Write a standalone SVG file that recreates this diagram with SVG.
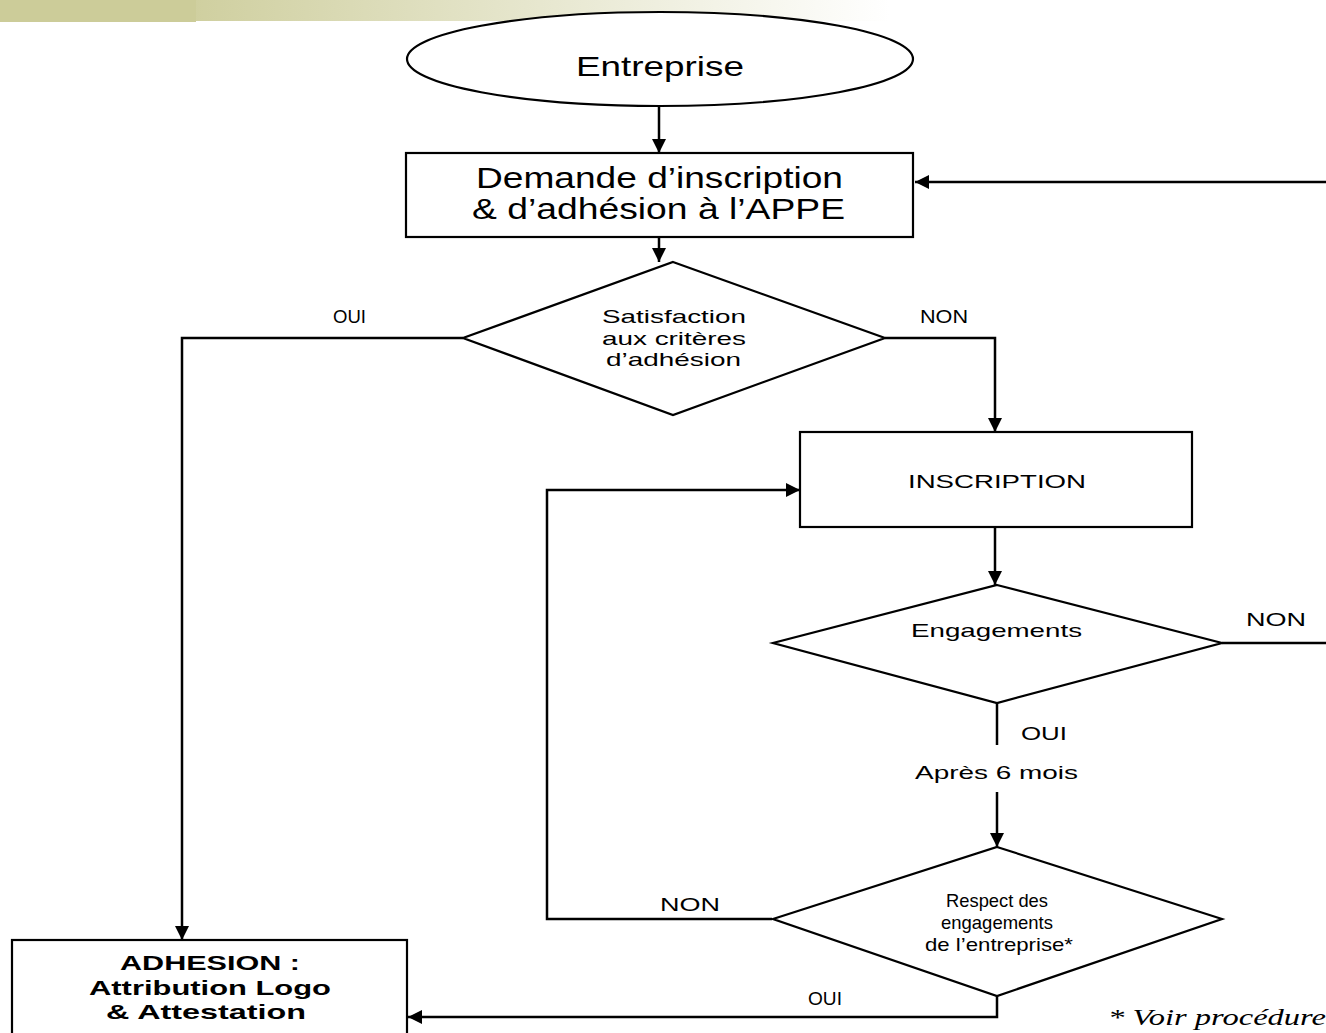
<svg xmlns="http://www.w3.org/2000/svg" width="1326" height="1033" viewBox="0 0 1326 1033">
<defs>
<linearGradient id="bar" x1="0" y1="0" x2="1" y2="0">
<stop offset="0" stop-color="#cfcf9f"/>
<stop offset="1" stop-color="#ffffff"/>
</linearGradient>
<marker id="ah" markerUnits="userSpaceOnUse" markerWidth="14" markerHeight="14" refX="14" refY="7" orient="auto" viewBox="0 0 14 14">
<path d="M0,0 L14,7 L0,14 z" fill="#000"/>
</marker>
<style>
.shape{fill:#fff;stroke:#000;stroke-width:2.2}
.conn{fill:none;stroke:#000;stroke-width:2.5}
.arr{marker-end:url(#ah)}
.t{font-family:"Liberation Sans",Arial,sans-serif;fill:#000;text-anchor:start}
.s{font-size:19px}
.m{font-size:18px}
.l{font-size:29px}
.b{font-size:21px;font-weight:bold}
.n{font-family:"Liberation Serif","Times New Roman",serif;font-style:italic;font-size:23px;fill:#000}
</style>
</defs>
<rect width="1326" height="1033" fill="#fff"/>
<g id="topbar">
<rect x="190" y="0" width="700" height="21" fill="url(#bar)"/>
<rect x="0" y="0" width="196" height="22" fill="#cccc99"/>
</g>
<g id="connectors">
<path class="conn arr" d="M659,106 L659,153"/>
<path class="conn arr" d="M659,237 L659,262"/>
<path class="conn arr" d="M1326,182 L915,182"/>
<path class="conn arr" d="M463,338 L182,338 L182,940"/>
<path class="conn arr" d="M885,338 L995,338 L995,432"/>
<path class="conn arr" d="M995,527 L995,585"/>
<path class="conn" d="M1222,643 L1326,643"/>
<path class="conn" d="M997,703 L997,745"/>
<path class="conn arr" d="M997,792 L997,847"/>
<path class="conn arr" d="M772,919 L547,919 L547,490 L800,490"/>
<path class="conn arr" d="M997,996 L997,1017 L408,1017"/>
</g>
<g id="node-entreprise">
<ellipse class="shape" cx="660" cy="59" rx="253" ry="47"/>
<text class="t" x="576" y="76" font-size="28" textLength="168" lengthAdjust="spacingAndGlyphs">Entreprise</text>
</g>
<g id="node-demande">
<rect class="shape" x="406" y="153" width="507" height="84"/>
<text class="t l" x="476" y="188" textLength="367" lengthAdjust="spacingAndGlyphs">Demande d’inscription</text>
<text class="t l" x="472" y="219" textLength="373" lengthAdjust="spacingAndGlyphs">&amp; d’adhésion à l’APPE</text>
</g>
<g id="node-satisfaction">
<polygon class="shape" points="673,262 885,338 673,415 463,338"/>
<text class="t s" x="602" y="323" textLength="144" lengthAdjust="spacingAndGlyphs">Satisfaction</text>
<text class="t s" x="602" y="345" textLength="144" lengthAdjust="spacingAndGlyphs">aux critères</text>
<text class="t s" x="606" y="366" textLength="135" lengthAdjust="spacingAndGlyphs">d’adhésion</text>
</g>
<g id="node-inscription">
<rect class="shape" x="800" y="432" width="392" height="95"/>
<text class="t s" x="908" y="488" textLength="178" lengthAdjust="spacingAndGlyphs">INSCRIPTION</text>
</g>
<g id="node-engagements">
<polygon class="shape" points="997,585 1222,643 997,703 773,643"/>
<text class="t s" x="911" y="637" textLength="171" lengthAdjust="spacingAndGlyphs">Engagements</text>
</g>
<g id="node-respect">
<polygon class="shape" points="997,847 1222,919 997,996 773,919"/>
<text class="t s" x="946" y="907" textLength="102" lengthAdjust="spacingAndGlyphs">Respect des</text>
<text class="t s" x="941" y="929" textLength="112" lengthAdjust="spacingAndGlyphs">engagements</text>
<text class="t s" x="925" y="951" textLength="148" lengthAdjust="spacingAndGlyphs">de l’entreprise*</text>
</g>
<g id="node-adhesion">
<rect class="shape" x="12" y="940" width="395" height="110"/>
<text class="t b" x="120" y="970" textLength="180" lengthAdjust="spacingAndGlyphs">ADHESION :</text>
<text class="t b" x="89" y="995" textLength="242" lengthAdjust="spacingAndGlyphs">Attribution Logo</text>
<text class="t b" x="106" y="1019" textLength="200" lengthAdjust="spacingAndGlyphs">&amp; Attestation</text>
</g>
<g id="labels">
<text class="t m" x="333" y="323" textLength="33" lengthAdjust="spacingAndGlyphs">OUI</text>
<text class="t m" x="920" y="323" textLength="48" lengthAdjust="spacingAndGlyphs">NON</text>
<text class="t m" x="1246" y="626" textLength="60" lengthAdjust="spacingAndGlyphs">NON</text>
<text class="t m" x="1021" y="740" textLength="46" lengthAdjust="spacingAndGlyphs">OUI</text>
<text class="t s" x="915" y="779" textLength="163" lengthAdjust="spacingAndGlyphs">Après 6 mois</text>
<text class="t m" x="660" y="911" textLength="60" lengthAdjust="spacingAndGlyphs">NON</text>
<text class="t m" x="808" y="1005" textLength="34" lengthAdjust="spacingAndGlyphs">OUI</text>
<text class="n" x="1108" y="1025" textLength="218" lengthAdjust="spacingAndGlyphs">* Voir procédure</text>
</g>
</svg>
